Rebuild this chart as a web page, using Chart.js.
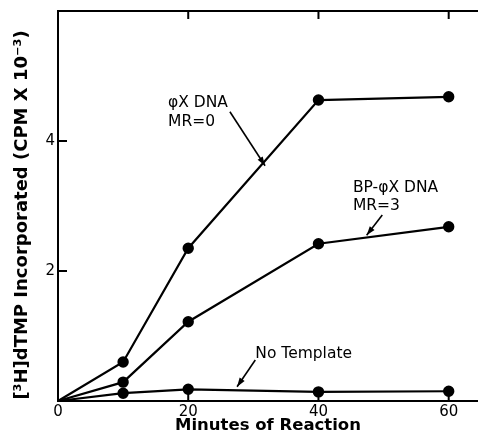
<!DOCTYPE html>
<html>
<head>
<meta charset="utf-8">
<script src="https://cdn.jsdelivr.net/npm/chart.js@4/dist/chart.umd.min.js"></script>
<style>
  html, body { margin: 0; padding: 0; background: #fff; }
  #wrap { width: 478px; height: 438px; position: relative; }
</style>
</head>
<body>
<div id="wrap"><canvas id="c" width="478" height="438"></canvas></div>
<script>
// ---- data ----
const minutes = [0, 10, 20, 40, 60];
const phiXDNA = [0, 0.60, 2.35, 4.63, 4.68];
const bpPhiXDNA = [0, 0.29, 1.22, 2.42, 2.68];
const noTemplate = [0, 0.12, 0.18, 0.14, 0.15];
const xTickLabels = [0, 20, 40, 60];
const yTickLabels = [2, 4];
const xTitle = 'Minutes of Reaction';
const yTitle = '[\u00B3H]dTMP Incorporated (CPM X 10\u207B\u00B3)\u2002\u2002';

// annotation labels (text) and their anchor points in data units
const noteTexts = [['\u03C6X DNA', 'MR=0'], ['BP-\u03C6X DNA', 'MR=3'], ['No Template']];
const noteAnchors = [
  { x: 16.9, y: 4.58, arrow: [26.4, 4.45, 31.8, 3.62] },
  { x: 45.3, y: 3.28, arrow: [49.8, 2.86, 47.4, 2.55] },
  { x: 30.3, y: 0.72, arrow: [30.3, 0.63, 27.5, 0.22] }
];

const FONT = '"DejaVu Sans", "Liberation Sans", sans-serif';

function toXY(ys) { return minutes.map((m, i) => ({ x: m, y: ys[i] })); }

function ds(label, ys) {
  return {
    label, data: toXY(ys),
    borderColor: '#000', backgroundColor: '#000', borderWidth: 2.2,
    pointRadius: ctx => ctx.dataIndex === 0 ? 0 : 4.6,
    pointHoverRadius: 4.6,
    pointBackgroundColor: '#000', pointBorderColor: '#000',
    tension: 0, fill: false, clip: false
  };
}

const framePlugin = {
  id: 'frame',
  afterDatasetsDraw(chart) {
    const { ctx, chartArea: a, scales } = chart;
    const xs = scales.x, ys = scales.y;
    ctx.save();
    ctx.strokeStyle = '#000';
    ctx.lineWidth = 2;
    // top frame line
    ctx.beginPath();
    ctx.moveTo(a.left, a.top); ctx.lineTo(a.right, a.top);
    ctx.stroke();
    // inward ticks
    ctx.beginPath();
    xTickLabels.forEach(v => {
      if (v === 0) return;
      const px = xs.getPixelForValue(v);
      ctx.moveTo(px, a.bottom); ctx.lineTo(px, a.bottom - 9);
      ctx.moveTo(px, a.top); ctx.lineTo(px, a.top + 8);
    });
    yTickLabels.forEach(v => {
      const py = ys.getPixelForValue(v);
      ctx.moveTo(a.left, py); ctx.lineTo(a.left + 9, py);
    });
    ctx.stroke();

    // annotations
    ctx.fillStyle = '#000';
    ctx.font = '15.5px ' + FONT;
    ctx.textBaseline = 'middle';
    ctx.textAlign = 'left';
    noteAnchors.forEach((n, i) => {
      const tx = xs.getPixelForValue(n.x), ty = ys.getPixelForValue(n.y);
      noteTexts[i].forEach((t, j) => ctx.fillText(t, tx, ty + j * 18.5));
      const [x1, y1, x2, y2] = n.arrow;
      const p1x = xs.getPixelForValue(x1), p1y = ys.getPixelForValue(y1);
      const p2x = xs.getPixelForValue(x2), p2y = ys.getPixelForValue(y2);
      ctx.lineWidth = 1.6;
      ctx.beginPath(); ctx.moveTo(p1x, p1y); ctx.lineTo(p2x, p2y); ctx.stroke();
      const ang = Math.atan2(p2y - p1y, p2x - p1x);
      const L = 9, W = 3;
      ctx.beginPath();
      ctx.moveTo(p2x, p2y);
      ctx.lineTo(p2x - L * Math.cos(ang) + W * Math.sin(ang), p2y - L * Math.sin(ang) - W * Math.cos(ang));
      ctx.lineTo(p2x - L * Math.cos(ang) - W * Math.sin(ang), p2y - L * Math.sin(ang) + W * Math.cos(ang));
      ctx.closePath(); ctx.fill();
    });
    ctx.restore();
  }
};

new Chart(document.getElementById('c'), {
  type: 'line',
  data: {
    datasets: [
      ds('\u03C6X DNA MR=0', phiXDNA),
      ds('BP-\u03C6X DNA MR=3', bpPhiXDNA),
      ds('No Template', noTemplate)
    ]
  },
  options: {
    responsive: false,
    animation: false,
    events: [],
    layout: { autoPadding: false, padding: { top: 11, right: 0, bottom: 0, left: 0 } },
    plugins: { legend: { display: false }, tooltip: { enabled: false } },
    scales: {
      x: {
        type: 'linear', min: 0, max: 64.5,
        grid: { display: false, drawTicks: false },
        border: { display: true, color: '#000', width: 2 },
        ticks: {
          maxRotation: 0, autoSkip: false, padding: 2,
          color: '#000', font: { family: FONT, size: 15 },
          callback: v => String(v)
        },
        afterBuildTicks: s => { s.ticks = xTickLabels.map(v => ({ value: v })); },
        title: {
          display: true, text: xTitle, color: '#000',
          font: { family: FONT, size: 16.5, weight: 'bold' },
          padding: { top: 0, bottom: 2 }
        },
        afterFit: s => { s.height = 37; s.paddingLeft = 0; s.paddingRight = 0; }
      },
      y: {
        type: 'linear', min: 0, max: 6,
        grid: { display: false, drawTicks: false },
        border: { display: true, color: '#000', width: 2 },
        ticks: {
          padding: 3,
          color: '#000', font: { family: FONT, size: 15 },
          callback: v => String(v)
        },
        afterBuildTicks: s => { s.ticks = yTickLabels.map(v => ({ value: v })); },
        title: {
          display: true, text: yTitle, color: '#000',
          font: { family: FONT, size: 18, weight: 'bold' },
          padding: { top: 12, bottom: 0 }
        },
        afterFit: s => { s.width = 58; s.paddingTop = 0; s.paddingBottom = 0; }
      }
    }
  },
  plugins: [framePlugin]
});
</script>
</body>
</html>
